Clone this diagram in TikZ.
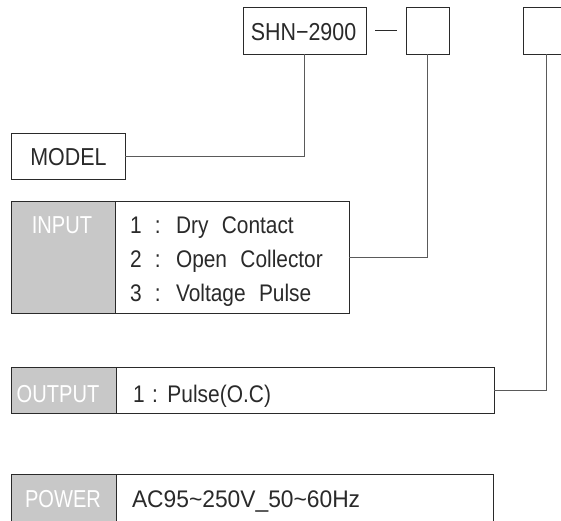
\documentclass[tikz,border=0pt]{standalone}
\usepackage{fontspec}
\setmainfont{Liberation Sans}
\newfontfamily\condfont[FakeStretch=0.87,WordSpace=2.3]{Liberation Sans}
\newfontfamily\tightfont[FakeStretch=0.872,WordSpace=1.3]{Liberation Sans}
\newfontfamily\capfont[FakeStretch=0.82]{Liberation Sans}
\newfontfamily\capwfont[FakeStretch=0.875]{Liberation Sans}
\definecolor{boxc}{HTML}{2A2A2A}
\definecolor{linec}{HTML}{5A5A5A}
\definecolor{grayc}{HTML}{C8C8C8}
\definecolor{textc}{HTML}{2A2A2A}
\newcommand{\fs}{\condfont\fontsize{24}{28}\selectfont}
\newcommand{\ft}{\tightfont\fontsize{24}{28}\selectfont}
\newcommand{\fc}{\capfont\fontsize{24.5}{28}\selectfont}
\newcommand{\fw}{\capwfont\fontsize{24.5}{28}\selectfont}
\begin{document}
\begin{tikzpicture}[x=1pt,y=-1pt,
  every node/.style={inner sep=0pt, outer sep=0pt},
  box/.style={draw=boxc, line width=1pt, fill=white},
  graybox/.style={draw=boxc, line width=1pt, fill=grayc},
  txt/.style={text=textc, font=\fs, anchor=base west},
  ctxt/.style={text=textc, font=\fw, anchor=base},
  wtxt/.style={text=white, font=\fc, anchor=base},
  conn/.style={draw=linec, line width=1pt}]
\useasboundingbox (0,0) rectangle (561,520);
% top code boxes
\node[box, minimum width=123pt, minimum height=47pt] (shn) at (304.5,30.5) {};
\node[ctxt] (shntxt) at (303.5,40) {SHN−2900};
\node[box, minimum width=43pt, minimum height=47pt] (b2) at (427.5,30.5) {};
\node[box, minimum width=46pt, minimum height=47pt] (b3) at (546,30.5) {};
\draw[conn, draw=boxc, shorten <=9pt, shorten >=9pt] (shn.east) -- (b2.west);
% MODEL
\node[box, minimum width=114pt, minimum height=46pt] (model) at (68,156) {};
\node[ctxt] (modeltxt) at (68.5,165) {MODEL};
% INPUT
\node[box, minimum width=338pt, minimum height=112pt] (input) at (180,257) {};
\node[graybox, minimum width=104pt, minimum height=112pt] (inlab) at (63,257) {};
\node[wtxt] (intxt) at (62,233) {INPUT};
\node[txt] (in1) at (130,233) {1 : Dry Contact};
\node[txt] (in2) at (130,267) {2 : Open Collector};
\node[txt] (in3) at (130,301) {3 : Voltage Pulse};
% OUTPUT
\node[box, minimum width=483pt, minimum height=46pt] (output) at (252.5,390) {};
\node[graybox, minimum width=105pt, minimum height=46pt] (outlab) at (63.5,390) {};
\node[wtxt] (outtxt) at (58,402) {OUTPUT};
\node[txt, font=\ft] (out1) at (133,402) {1 : Pulse(O.C)};
% POWER
\node[box, minimum width=482pt, minimum height=56pt] (power) at (252,502) {};
\node[graybox, minimum width=105pt, minimum height=56pt] (powlab) at (63.5,502) {};
\node[wtxt] (powtxt) at (63,507) {POWER};
\node[txt] (pow1) at (132,507) {\fontspec[FakeStretch=0.95]{Liberation Sans}\fontsize{24}{28}\selectfont AC95\textasciitilde250V\_50\textasciitilde60Hz};
% connectors
\draw[conn] (model.east) -| (shn.south);
\draw[conn] (input.east) -| (b2.south);
\draw[conn] (output.east) -| (b3.south);
\end{tikzpicture}
\end{document}
